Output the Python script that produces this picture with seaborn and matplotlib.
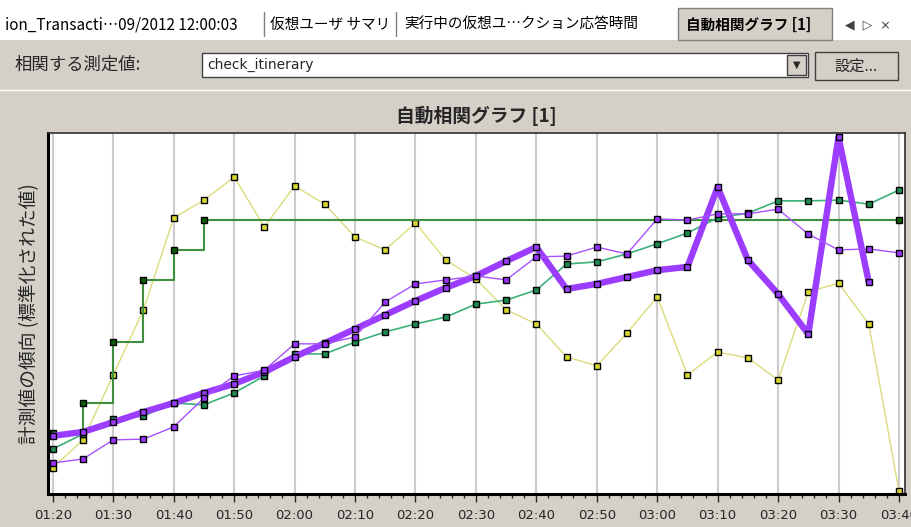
import matplotlib

matplotlib.use("Agg")
import matplotlib.pyplot as plt
import matplotlib.ticker as mticker
from matplotlib.patches import Rectangle
import numpy as np
import pandas as pd
import seaborn as sns

# --- data (normalised trend, 0-100) -------------------------------------------
TIMES = ["01:20", "01:25", "01:30", "01:35", "01:40", "01:45", "01:50", "01:55",
         "02:00", "02:05", "02:10", "02:15", "02:20", "02:25", "02:30", "02:35",
         "02:40", "02:45", "02:50", "02:55", "03:00", "03:05", "03:10", "03:15",
         "03:20", "03:25", "03:30", "03:35", "03:40"]

STEP_TIMES = ["01:20", "01:25", "01:30", "01:35", "01:40", "01:45", "03:40"]
STEP_GREEN = [16.9, 25.2, 42.1, 59.3, 67.6, 75.9, 75.9]

YELLOW = [7.3, 15.0, 33.0, 51.0, 76.5, 81.4, 87.8, 74.0, 85.3, 80.3, 71.2, 67.6,
          75.1, 64.8, 59.6, 51.0, 47.1, 38.0, 35.5, 44.6, 54.6, 33.0, 39.3, 37.7,
          31.6, 56.0, 58.4, 47.1, 0.8]

SEA_GREEN = [12.5, 16.6, 20.8, 21.6, 25.2, 24.7, 28.0, 32.7, 38.8, 38.8, 42.1,
             44.9, 47.1, 49.0, 52.6, 53.7, 56.5, 63.7, 64.3, 66.5, 69.3, 72.3,
             76.5, 77.8, 81.2, 81.2, 81.4, 80.3, 84.2]

THIN_PURPLE = [8.6, 9.7, 15.0, 15.2, 18.6, 26.6, 32.7, 34.3, 41.6, 41.6, 43.5,
               53.2, 58.2, 59.3, 60.4, 59.3, 65.7, 65.9, 68.4, 66.5, 76.2, 75.9,
               77.6, 77.6, 78.9, 72.0, 67.6, 67.9, 66.8]

# check_itinerary (the correlated measurement) - ends at 03:35
THICK_PURPLE = [16.1, 17.2, 19.9, 22.7, 25.2, 28.0, 30.5, 33.8, 38.0, 41.8, 45.7,
                49.6, 53.5, 57.1, 60.4, 64.5, 68.4, 56.8, 58.2, 60.1, 62.0, 62.9,
                85.0, 64.8, 55.4, 44.3, 98.9, 58.7]

TAB_LABELS = ["ion_Transacti\u202609/2012 12:00:03", "仮想ユーザ サマリ",
              "実行中の仮想ユ\u2026クション応答時間", "自動相関グラフ [1]"]


def to_min(t):
    h, m = t.split(":")
    return int(h) * 60 + int(m)


def fmt_min(v, _pos):
    v = int(round(v))
    return f"{v // 60:02d}:{v % 60:02d}"


W, H = 911, 527
UI_GRAY = "#d4d0c8"
JP = ["Noto Sans CJK JP", "DejaVu Sans"]

sns.set_style("white")
plt.rcParams["font.family"] = JP

fig = plt.figure(figsize=(W / 100, H / 100), dpi=100, facecolor=UI_GRAY)


def fx(x):
    return x / W


def fy(y):
    return 1 - y / H


def box(x0, y0, x1, y1, fc, ec="none", lw=1.0):
    fig.add_artist(Rectangle((fx(x0), fy(y1)), fx(x1) - fx(x0), fy(y0) - fy(y1),
                             transform=fig.transFigure, facecolor=fc,
                             edgecolor=ec, linewidth=lw))


# --- window chrome: tab strip + measurement selector row ---------------------
box(0, 0, W, 40, "#ffffff")
box(678, 8, 832, 40, UI_GRAY, ec="#808080")
tab_x = [5, 270, 404, 686]
tab_fs = [11, 10.5, 10.5, 10.5]
for x, fs, lbl in zip(tab_x, tab_fs, TAB_LABELS):
    fig.text(fx(x), fy(25), lbl, fontsize=fs, va="center", ha="left",
             fontweight="bold" if lbl.startswith("自動") else "normal",
             color="#000000")
for x in (264, 396):
    fig.add_artist(plt.Line2D([fx(x), fx(x)], [fy(12), fy(36)],
                              transform=fig.transFigure, color="#808080", lw=1))
fig.text(fx(845), fy(25), "◀  ▷  ×", fontsize=9, va="center", ha="left",
         color="#404040", family="DejaVu Sans")

fig.text(fx(15), fy(65), "相関する測定値:", fontsize=12.5, va="center", ha="left")
box(202, 53, 808, 77, "#ffffff", ec="#404040")
fig.text(fx(207), fy(65), "check_itinerary", fontsize=10, va="center", ha="left",
         family="DejaVu Sans")
box(787, 55, 806, 75, UI_GRAY, ec="#404040")
fig.text(fx(796.5), fy(65), "▼", fontsize=7, va="center", ha="center",
         family="DejaVu Sans")
box(815, 52, 898, 80, UI_GRAY, ec="#404040")
fig.text(fx(856), fy(66), "設定...", fontsize=11, va="center", ha="center")
fig.add_artist(plt.Line2D([0, 1], [fy(90), fy(90)], transform=fig.transFigure,
                          color="#ffffff", lw=1))

# --- chart -------------------------------------------------------------------
ax = fig.add_axes([fx(48), fy(494), fx(905) - fx(48), fy(133) - fy(494)])
ax.set_facecolor("#ffffff")

x_all = [to_min(t) for t in TIMES]
x_step = [to_min(t) for t in STEP_TIMES]
mk = dict(marker="s", markersize=4.6, markeredgecolor="#000000",
          markeredgewidth=1.0)

sns.lineplot(x=x_all, y=YELLOW, color="#dcdc7c", linewidth=1.0,
             markerfacecolor="#d8d830", zorder=2, ax=ax, **mk)
sns.lineplot(x=x_step, y=STEP_GREEN, color="#3f8f3f", linewidth=1.5,
             drawstyle="steps-post", markerfacecolor="#0a5a0a", zorder=3,
             ax=ax, **mk)
sns.lineplot(x=x_all, y=SEA_GREEN, color="#3cb07a", linewidth=1.2,
             markerfacecolor="#1f8a50", zorder=3, ax=ax, **mk)
sns.lineplot(x=x_all[:len(THICK_PURPLE)], y=THICK_PURPLE, color="#9b3cff",
             linewidth=4.6, markerfacecolor="#9b3cff", zorder=3.5, ax=ax, **mk)
sns.lineplot(x=x_all, y=THIN_PURPLE, color="#a850ff", linewidth=1.0,
             markerfacecolor="#9933ff", zorder=4, ax=ax, **mk)

ax.set_xlim(79.2, 221.0)
ax.set_ylim(0, 100)
ax.set_yticks([])
ax.xaxis.set_major_locator(mticker.MultipleLocator(10))
ax.xaxis.set_minor_locator(mticker.MultipleLocator(2))
ax.xaxis.set_major_formatter(mticker.FuncFormatter(fmt_min))
ax.tick_params(axis="x", which="major", length=6, width=1, direction="out",
               labelsize=9.5, pad=5, bottom=True)
ax.tick_params(axis="x", which="minor", length=3, width=1, direction="out",
               bottom=True)
for lbl in ax.get_xticklabels():
    lbl.set_family("DejaVu Sans")
ax.grid(axis="x", which="major", color="#cccccc", linewidth=1.5)
ax.set_axisbelow(True)
for side in ("left", "bottom"):
    ax.spines[side].set_linewidth(2.2)
    ax.spines[side].set_color("#000000")
for side in ("top", "right"):
    ax.spines[side].set_linewidth(1.2)
    ax.spines[side].set_color("#303030")

ax.set_xlabel("")
ax.set_ylabel("計測値の傾向 (標準化された値)", fontsize=13.5, labelpad=6)
ax.set_title("自動相関グラフ [1]", fontsize=13.5, fontweight="bold", pad=8)

fig.savefig("out.png", dpi=100, facecolor=UI_GRAY)
